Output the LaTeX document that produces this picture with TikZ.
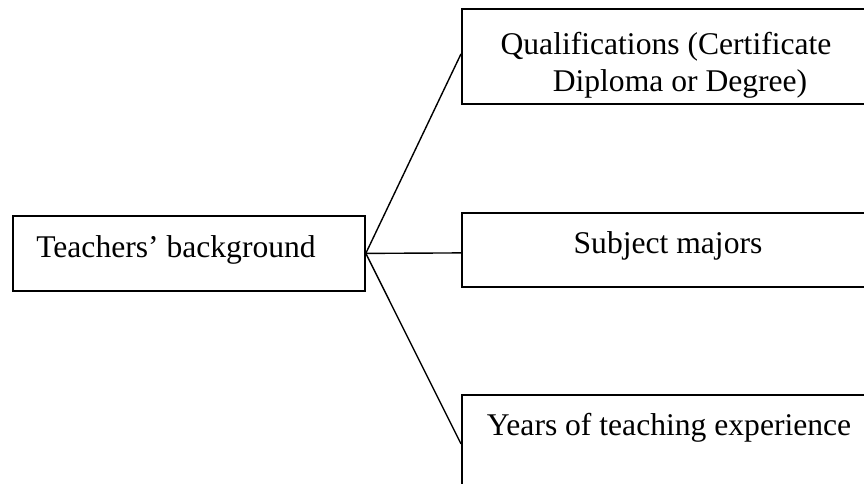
\documentclass[tikz,border=0pt]{standalone}
\usepackage{fontspec}
\setmainfont{Liberation Serif}
\begin{document}
\begin{tikzpicture}[x=1pt,y=-1pt,
  box/.style={draw,line width=1.8pt,rectangle,inner sep=0pt,anchor=north west},
  lbl/.style={font=\fontsize{31.6}{36}\selectfont,inner sep=0pt,anchor=base},
  conn/.style={line width=1.4pt}]
\useasboundingbox (0,0) rectangle (864,484);
\clip (0,0) rectangle (864,484);
% boxes
\node[box,minimum width=352pt,minimum height=75pt] (tb) at (12,215) {};
\node[box,minimum width=420pt,minimum height=95pt] (qb) at (461,8) {};
\node[box,minimum width=420pt,minimum height=74pt] (sb) at (461,212) {};
\node[box,minimum width=420pt,minimum height=98pt] (yb) at (461,394) {};
% labels
\node[lbl] (tbt) at (176,257) {Teachers’ background};
\node[lbl] (qbt1) at (666,55) {Qualifications (Certificate};
\node[lbl] (qbt2) at (680,92) {Diploma or Degree)};
\node[lbl] (sbt) at (668,253) {Subject majors};
\node[lbl] (ybt) at (669,435) {Years of teaching experience};
% connectors
\draw[conn] (tb.east) -- ([yshift=2.5pt]qb.west);
\draw[conn] (tb.east) -- ([yshift=-3pt]sb.west);
\draw[conn] (tb.east) -- (yb.west);
\end{tikzpicture}
\end{document}
